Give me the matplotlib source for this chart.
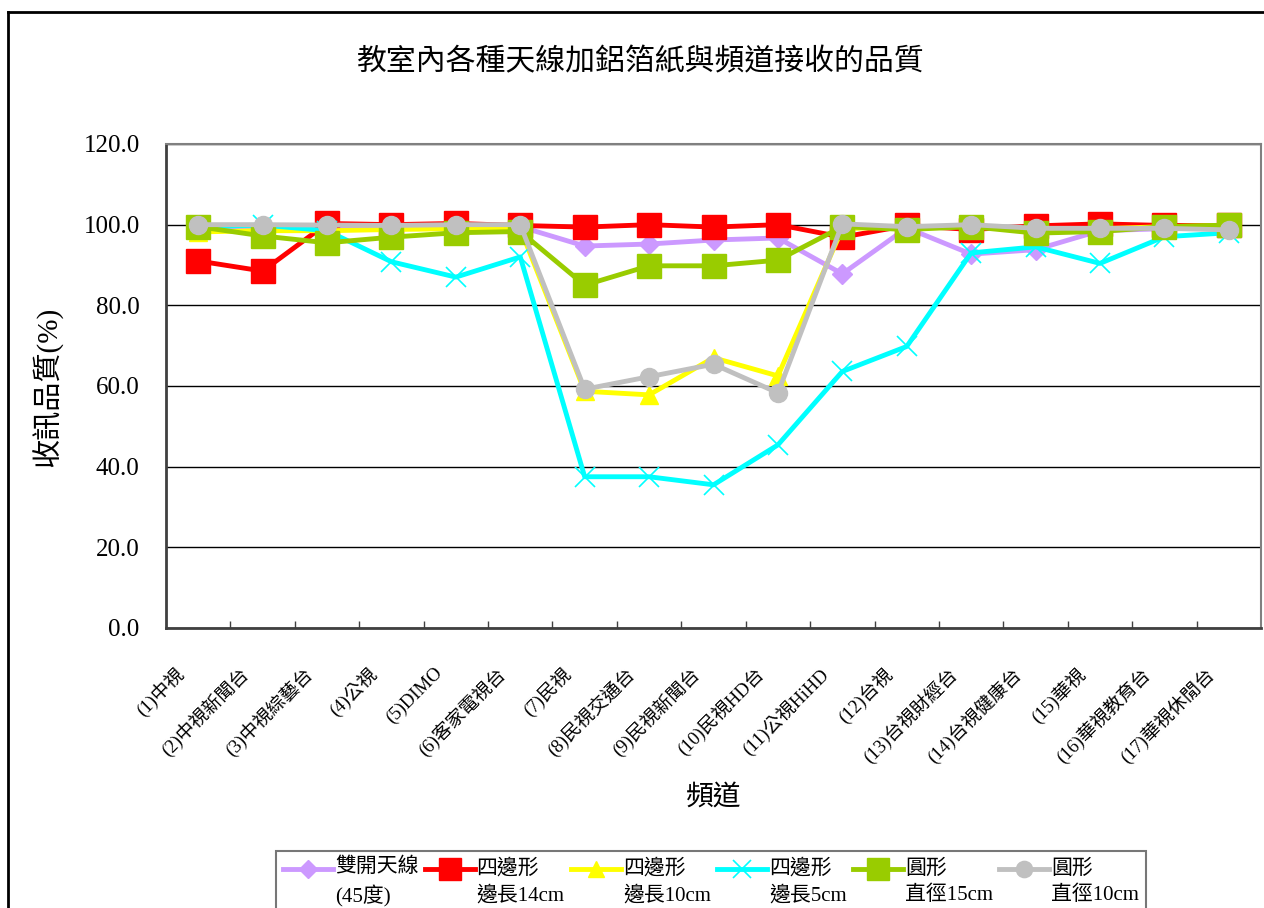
import matplotlib
matplotlib.use("Agg")
import matplotlib.pyplot as plt
from matplotlib.lines import Line2D
from matplotlib.transforms import ScaledTranslation
from matplotlib.legend_handler import HandlerLine2D

plt.rcParams['font.family'] = ['Liberation Serif', 'Noto Sans CJK TC']

channels = ["(1)中視", "(2)中視新聞台", "(3)中視綜藝台", "(4)公視", "(5)DIMO",
            "(6)客家電視台", "(7)民視", "(8)民視交通台", "(9)民視新聞台", "(10)民視HD台",
            "(11)公視HiHD", "(12)台視", "(13)台視財經台", "(14)台視健康台", "(15)華視",
            "(16)華視教育台", "(17)華視休閒台"]

dipole_45 = [99.5, 99.5, 99.6, 99.5, 99.6, 99.5, 94.7, 95.2, 96.2, 96.7, 87.8, 99.2, 92.7, 93.8, 98.5, 99.0, 99.2]
square_14 = [91.0, 88.5, 100.3, 100.0, 100.3, 99.8, 99.4, 100.0, 99.4, 100.0, 96.9, 99.8, 98.8, 99.7, 100.2, 99.8, 99.8]
square_10 = [98.2, 98.5, 98.5, 98.8, 99.0, 99.0, 58.7, 57.8, 67.0, 62.5, 99.0, 99.5, 99.5, 99.0, 99.0, 99.5, 99.8]
square_5 = [99.5, 99.9, 98.5, 90.8, 87.0, 92.0, 37.5, 37.5, 35.5, 45.4, 63.6, 69.8, 93.0, 94.5, 90.4, 97.0, 98.0]
circle_15 = [99.5, 97.2, 95.5, 96.9, 98.0, 98.3, 85.0, 89.8, 89.8, 91.2, 99.5, 98.8, 99.5, 97.9, 98.3, 99.5, 99.9]
circle_10 = [100.0, 100.0, 99.9, 99.8, 100.0, 100.0, 59.2, 62.3, 65.4, 58.3, 100.2, 99.5, 100.0, 99.1, 99.1, 99.1, 98.7]

series_labels = ["雙開天線\n(45度)", "四邊形\n邊長14cm", "四邊形\n邊長10cm",
                 "四邊形\n邊長5cm", "圓形\n直徑15cm", "圓形\n直徑10cm"]
y_ticks = [0, 20, 40, 60, 80, 100, 120]


class RaisedLine(HandlerLine2D):
    def create_artists(self, legend, orig_handle, xdescent, ydescent, width,
                       height, fontsize, trans):
        arts = super().create_artists(legend, orig_handle, xdescent, ydescent,
                                      width, height, fontsize, trans)
        for a in arts:
            a.set_ydata([y + 0.62 * fontsize for y in a.get_ydata()])
        return arts


W, H = 1264, 908
fig = plt.figure(figsize=(W / 100, H / 100), dpi=100)
ax = fig.add_axes([166 / W, 1 - 628 / H, (1261 - 166) / W, (628 - 144) / H])

x = list(range(len(channels)))
styles = [
    dict(color="#CC99FF", marker="D", ms=10),
    dict(color="#FF0000", marker="s", ms=17),
    dict(color="#FFFF00", marker="^", ms=13),
    dict(color="#00FFFF", marker="x", ms=14, mew=1.2),
    dict(color="#99CC00", marker="s", ms=17),
    dict(color="#C0C0C0", marker="o", ms=13),
]
data = [dipole_45, square_14, square_10, square_5, circle_15, circle_10]
for vals, st, lab in zip(data, styles, series_labels):
    ax.plot(x, vals, lw=3.5, label=lab, solid_joinstyle="round", clip_on=False,
            markeredgecolor=st["color"], markerfacecolor=st["color"], **st)

ax.set_xlim(-0.5, len(channels) - 0.5)
ax.set_ylim(0, 120)
ax.set_yticks(y_ticks)
ax.set_yticklabels([f"{v:.1f}" for v in y_ticks], fontsize=18)
ax.tick_params(axis="y", length=0, pad=19)
ax.yaxis.grid(True, color="black", lw=1)
ax.set_axisbelow(True)

ax.set_xticks(x)
ax.set_xticklabels(channels, rotation=45, ha="right", va="top", fontsize=13.5)
ax.tick_params(axis="x", which="major", length=0, pad=26)
ax.set_xticks([i + 0.5 for i in range(len(channels) - 1)], minor=True)
ax.tick_params(axis="x", which="minor", direction="in", length=5, width=1, color="#404040")
off = ScaledTranslation(-10 / 100, 0, fig.dpi_scale_trans)
for lbl in ax.get_xticklabels():
    lbl.set_transform(lbl.get_transform() + off)

for s in ["left", "bottom"]:
    ax.spines[s].set_color("#404040")
    ax.spines[s].set_linewidth(2)
for s in ["top", "right"]:
    ax.spines[s].set_color("#808080")
    ax.spines[s].set_linewidth(1.5)

fig.text(640 / W, 1 - 62 / H, "教室內各種天線加鋁箔紙與頻道接收的品質",
         fontsize=21.5, ha="center", va="center")
fig.text(48 / W, 1 - 387 / H, "收訊品質(%)", fontsize=21, rotation=90,
         ha="center", va="center")
fig.text(714 / W, 1 - 798 / H, "頻道", fontsize=20, ha="center", va="center")

leg = fig.legend(loc="upper center", bbox_to_anchor=(711 / W, 1 - 841 / H), ncol=6,
                 fontsize=15, frameon=True, fancybox=False, handlelength=2.4,
                 handletextpad=0.1, columnspacing=0.3, borderpad=0.3,
                 labelspacing=0.2, markerscale=0.9,
                 handler_map={Line2D: RaisedLine()})
for t in leg.get_texts():
    t.set_linespacing(1.45)
leg.get_frame().set_edgecolor("#555555")
leg.get_frame().set_linewidth(1.5)

fig.add_artist(Line2D([8 / W, 8 / W], [0, 1 - 12 / H], color="black", lw=2,
                      transform=fig.transFigure))
fig.add_artist(Line2D([8 / W, 1], [1 - 12 / H, 1 - 12 / H], color="black", lw=2,
                      transform=fig.transFigure))

fig.savefig("out.png", dpi=100)
